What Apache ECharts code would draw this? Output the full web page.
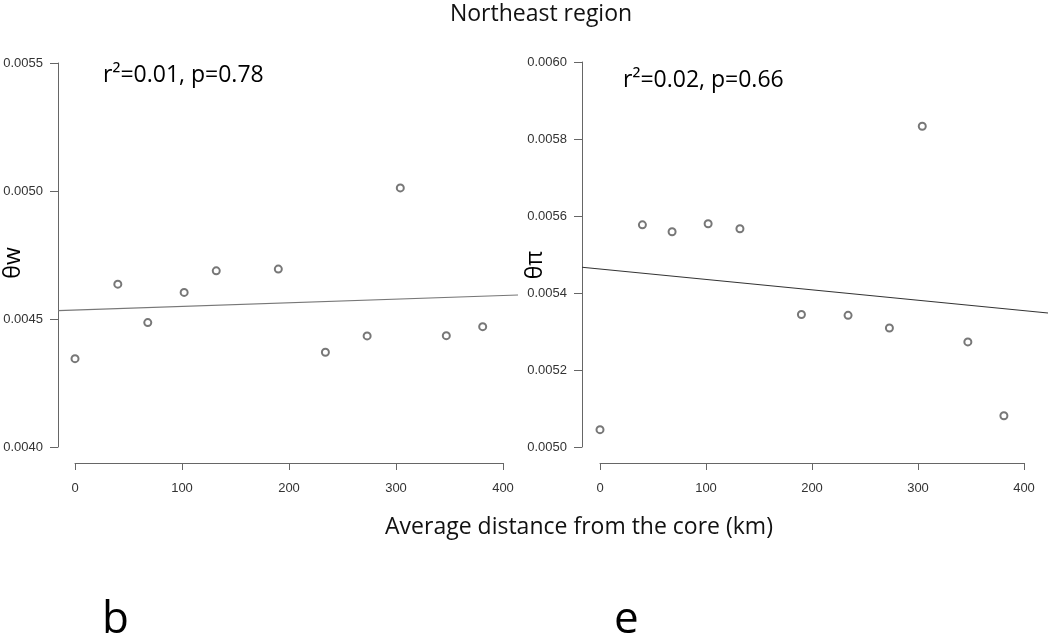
<!DOCTYPE html>
<html>
<head>
<meta charset="utf-8">
<script src="https://cdn.jsdelivr.net/npm/echarts@6/dist/echarts.min.js"></script>
<style>html,body{margin:0;padding:0;background:#fff;}#c{width:1050px;height:640px;}</style>
</head>
<body>
<div id="c"></div>
<script>
// ---- data ----
var distance = [0, 40, 68, 102, 132, 190, 234, 273, 304, 347, 381];
var thetaW   = [0.004345, 0.004636, 0.004486, 0.004604, 0.004688, 0.004695, 0.004370, 0.004434, 0.005012, 0.004435, 0.004470];
var thetaPi  = [0.005045, 0.005577, 0.005559, 0.005580, 0.005567, 0.005344, 0.005342, 0.005309, 0.005833, 0.005273, 0.005081];
var fitW  = {intercept: 0.0045347, slope: 1.428e-7};
var fitPi = {intercept: 0.0054622, slope: -2.70e-7};
var xTicks = [0, 100, 200, 300, 400];
var yTicksW  = [0.0040, 0.0045, 0.0050, 0.0055];
var yTicksPi = [0.0050, 0.0052, 0.0054, 0.0056, 0.0058, 0.0060];
var titleText = 'Northeast region';
var statW  = 'r\u00B2=0.01, p=0.78';
var statPi = 'r\u00B2=0.02, p=0.66';
var yNameW = '\u03B8w', yNamePi = '\u03B8\u03C0';
var xName = 'Average distance from the core (km)';
var panelLetters = ['b', 'e'];

// ---- chart ----
var axisCol = '#666';
var tickFont = {fontFamily: 'Liberation Sans', fontSize: 13, color: '#333'};
function pairs(xs, ys){ return xs.map(function(x,i){ return [x, ys[i]]; }); }
function fitLine(f, x0, x1){ return [[x0, f.intercept + f.slope*x0], [x1, f.intercept + f.slope*x1]]; }

// data-axis extents (plot region of each panel)
var L = {xmin: -15.9, xmax: 414.0, ymin: 0.0039414, ymax: 0.0055586};
var R = {xmin: -16.98, xmax: 422.6, ymin: 0.004961, ymax: 0.006039};

var hiddenX = function(g, e){ return {type:'value', gridIndex:g, min:e.xmin, max:e.xmax, show:false}; };
var hiddenY = function(g, e){ return {type:'value', gridIndex:g, min:e.ymin, max:e.ymax, show:false}; };

function dispY(g, ticks){
  return {type:'value', gridIndex:g, min:ticks[0], max:ticks[ticks.length-1],
    interval: ticks[1]-ticks[0], splitLine:{show:false},
    axisLine:{show:true, lineStyle:{color:axisCol, width:1}},
    axisTick:{show:true, inside:false, length:8, lineStyle:{color:axisCol}},
    axisLabel:Object.assign({margin:15, formatter:function(v){return v.toFixed(4);}}, tickFont)};
}
function dispX(g){
  return {type:'value', gridIndex:g, min:xTicks[0], max:xTicks[xTicks.length-1],
    interval: xTicks[1]-xTicks[0], splitLine:{show:false},
    axisLine:{show:true, onZero:false, lineStyle:{color:axisCol, width:1}},
    axisTick:{show:true, inside:false, length:7, lineStyle:{color:axisCol}},
    axisLabel:Object.assign({margin:19}, tickFont)};
}

var option = {
  backgroundColor:'#fff',
  animation:false,
  grid:[
    {left:58, top:48, width:460, height:414},   // 0 left data
    {left:58, top:63, width:460, height:384},   // 1 left y display
    {left:75, top:48, width:428, height:415},   // 2 left x display
    {left:582, top:47, width:466, height:415},  // 3 right data
    {left:582, top:62, width:466, height:385},  // 4 right y display
    {left:600, top:47, width:424, height:416}   // 5 right x display
  ],
  xAxis:[
    hiddenX(0, L),
    {type:'value', gridIndex:1, show:false},
    dispX(2),
    hiddenX(3, R),
    {type:'value', gridIndex:4, show:false},
    dispX(5)
  ],
  yAxis:[
    hiddenY(0, L),
    dispY(1, yTicksW),
    {type:'value', gridIndex:2, show:false},
    hiddenY(3, R),
    dispY(4, yTicksPi),
    {type:'value', gridIndex:5, show:false}
  ],
  series:[
    {type:'line', xAxisIndex:0, yAxisIndex:0, data:fitLine(fitW, L.xmin, L.xmax), symbol:'none',
      lineStyle:{color:'#777', width:1.2}, silent:true},
    {type:'scatter', xAxisIndex:0, yAxisIndex:0, data:pairs(distance, thetaW), symbol:'emptyCircle', symbolSize:7,
      itemStyle:{color:'#555', borderWidth:0.9}},
    {type:'line', xAxisIndex:3, yAxisIndex:3, data:fitLine(fitPi, R.xmin, R.xmax), symbol:'none',
      lineStyle:{color:'#333', width:1.1}, silent:true},
    {type:'scatter', xAxisIndex:3, yAxisIndex:3, data:pairs(distance, thetaPi), symbol:'emptyCircle', symbolSize:7,
      itemStyle:{color:'#555', borderWidth:0.9}}
  ],
  graphic:[
    {type:'text', x:541, y:14, style:{text:titleText, font:'23px "Open Sans"', fill:'#111', align:'center', verticalAlign:'middle', textAlign:'center', textVerticalAlign:'middle'}},
    {type:'text', x:103, y:75, style:{text:statW, font:'23px "Open Sans"', fill:'#000', align:'left', verticalAlign:'middle', textAlign:'left', textVerticalAlign:'middle'}},
    {type:'text', x:623, y:80, style:{text:statPi, font:'23px "Open Sans"', fill:'#000', align:'left', verticalAlign:'middle', textAlign:'left', textVerticalAlign:'middle'}},
    {type:'text', x:13, y:263, rotation:Math.PI/2, style:{text:yNameW, font:'23px "Open Sans"', fill:'#000', align:'center', verticalAlign:'middle', textAlign:'center', textVerticalAlign:'middle'}},
    {type:'text', x:535, y:265, rotation:Math.PI/2, style:{text:yNamePi, font:'23px "Open Sans"', fill:'#000', align:'center', verticalAlign:'middle', textAlign:'center', textVerticalAlign:'middle'}},
    {type:'text', x:579, y:527, style:{text:xName, font:'23px "Open Sans"', fill:'#111', align:'center', verticalAlign:'middle', textAlign:'center', textVerticalAlign:'middle'}},
    {type:'text', x:102, y:620, style:{text:panelLetters[0], font:'44px "Open Sans"', fill:'#000', align:'left', verticalAlign:'middle', textAlign:'left', textVerticalAlign:'middle'}},
    {type:'text', x:614, y:620, style:{text:panelLetters[1], font:'44px "Open Sans"', fill:'#000', align:'left', verticalAlign:'middle', textAlign:'left', textVerticalAlign:'middle'}}
  ]
};
var chart = echarts.init(document.getElementById('c'), null, {renderer:'canvas'});
chart.setOption(option);
</script>
</body>
</html>
